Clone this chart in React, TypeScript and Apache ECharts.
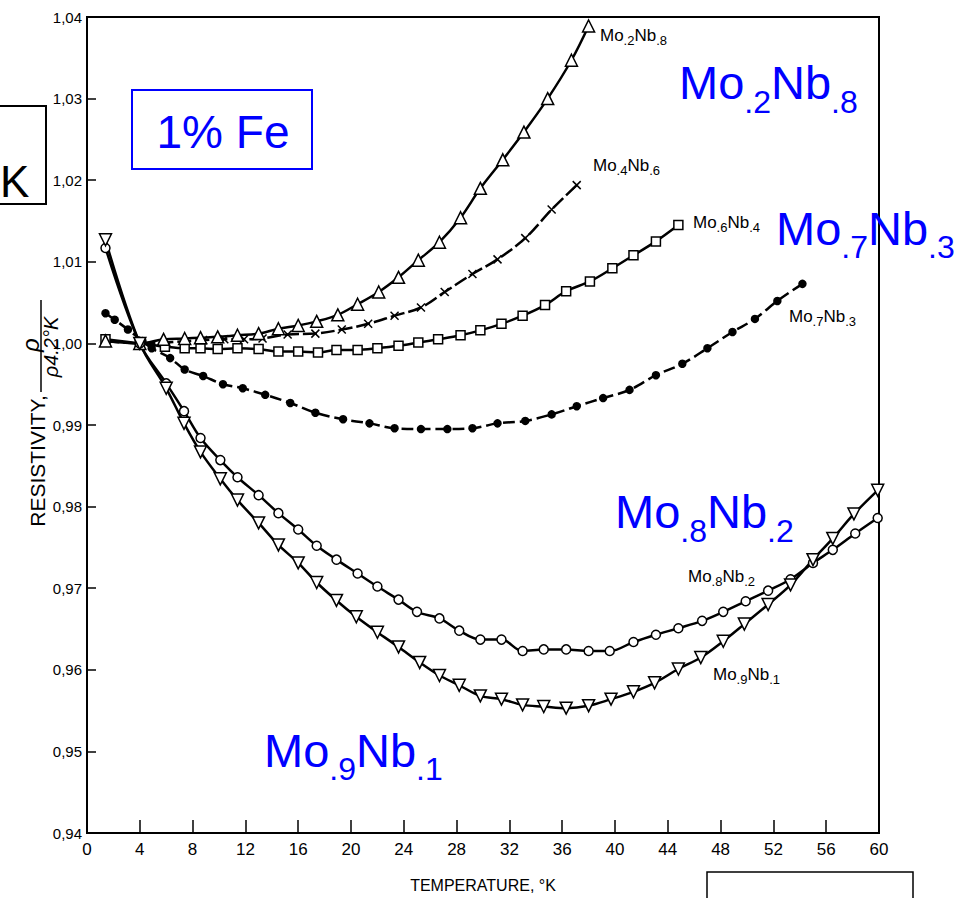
import React, { useEffect, useRef } from 'react';
import * as echarts from 'echarts';

// ---------- data (temperature °K, normalized resistivity) ----------
const mo2nb8: [number, number][] = [
  [1.4, 1.0003], [4, 1.0], [5.8, 1.0005], [7.4, 1.0006], [8.6, 1.0007], [9.9, 1.0008], [11.4, 1.001],
  [13.0, 1.0012], [14.5, 1.0018], [16.0, 1.0022], [17.4, 1.0027], [19.0, 1.0035], [20.5, 1.0048],
  [22.1, 1.0063], [23.6, 1.0081], [25.1, 1.0102], [26.7, 1.0124], [28.3, 1.0154], [29.8, 1.019],
  [31.5, 1.0225], [33.1, 1.0259], [34.9, 1.03], [36.7, 1.0347], [38.0, 1.0389],
];
const mo4nb6: [number, number][] = [
  [1.4, 1.0003], [4, 1.0], [8.8, 1.0004], [10.4, 1.0005], [11.9, 1.0005], [13.3, 1.0006], [15.2, 1.0011],
  [17.3, 1.0012], [19.3, 1.0017], [21.3, 1.0024], [23.3, 1.0034], [25.3, 1.0044], [27.1, 1.0063],
  [29.2, 1.0085], [31.1, 1.0103], [33.2, 1.0129], [35.2, 1.0164], [37.1, 1.0194],
];
const mo6nb4: [number, number][] = [
  [1.4, 1.0005], [4, 1.0], [5.9, 0.9996], [7.4, 0.9994], [8.6, 0.9994], [9.9, 0.9993], [11.4, 0.9994],
  [13.0, 0.9993], [14.5, 0.999], [16.0, 0.999], [17.5, 0.9989], [18.9, 0.9992], [20.5, 0.9992],
  [22.0, 0.9994], [23.6, 0.9997], [25.1, 1.0001], [26.6, 1.0005], [28.3, 1.001], [29.8, 1.0016],
  [31.4, 1.0024], [33.0, 1.0034], [34.7, 1.0047], [36.3, 1.0064], [38.1, 1.0076], [39.8, 1.0092],
  [41.4, 1.0108], [43.1, 1.0125], [44.8, 1.0145],
];
const mo7nb3: [number, number][] = [
  [1.4, 1.0037], [2.1, 1.0029], [3.1, 1.0017], [4.2, 1.0003], [4.9, 0.9994], [6.3, 0.9982], [7.4, 0.9968],
  [8.8, 0.996], [10.3, 0.995], [11.8, 0.9945], [13.5, 0.9937], [15.4, 0.9927], [17.3, 0.9915],
  [19.4, 0.9907], [21.4, 0.9902], [23.3, 0.9896], [25.3, 0.9895], [27.3, 0.9895], [29.2, 0.9896],
  [31.1, 0.9902], [33.2, 0.9905], [35.2, 0.9913], [37.1, 0.9923], [39.1, 0.9933], [41.1, 0.9943],
  [43.1, 0.9961], [45.1, 0.9975], [47.0, 0.9994], [48.9, 1.0014], [50.6, 1.003], [52.3, 1.0052],
  [54.2, 1.0073],
];
const mo8nb2: [number, number][] = [
  [1.4, 1.0117], [4, 1.0], [6.0, 0.9951], [7.35, 0.9917], [8.6, 0.9884], [10.1, 0.9857], [11.4, 0.9836],
  [13.0, 0.9814], [14.5, 0.9792], [16.0, 0.9772], [17.4, 0.9752], [18.9, 0.9735], [20.5, 0.9718],
  [22.0, 0.9702], [23.6, 0.9686], [25.0, 0.9671], [26.7, 0.9663], [28.2, 0.9648], [29.8, 0.9637],
  [31.4, 0.9637], [33.0, 0.9623], [34.6, 0.9625], [36.3, 0.9625], [38.0, 0.9623], [39.6, 0.9623],
  [41.4, 0.9634], [43.1, 0.9643], [44.8, 0.9651], [46.6, 0.966], [48.2, 0.9671], [49.9, 0.9684],
  [51.6, 0.9697], [53.3, 0.9711], [55.0, 0.9731], [56.5, 0.9747], [58.2, 0.9767], [59.9, 0.9786],
];
const mo9nb1: [number, number][] = [
  [1.4, 1.0127], [4, 1.0], [6.0, 0.9945], [7.35, 0.9902], [8.6, 0.9867], [10.1, 0.9834], [11.4, 0.9808],
  [13.0, 0.978], [14.5, 0.9753], [16.0, 0.9731], [17.4, 0.9707], [18.9, 0.9685], [20.4, 0.9665],
  [22.0, 0.9646], [23.6, 0.9628], [25.2, 0.9609], [26.7, 0.9593], [28.2, 0.9581], [29.8, 0.9568],
  [31.4, 0.9564], [33.0, 0.9557], [34.6, 0.9555], [36.3, 0.9553], [38.0, 0.9556], [39.7, 0.9564],
  [41.4, 0.9573], [43.0, 0.9584], [44.8, 0.9601], [46.5, 0.9615], [48.2, 0.9635], [49.8, 0.9656],
  [51.6, 0.968], [53.3, 0.9704], [55.0, 0.9735], [56.5, 0.9761], [58.1, 0.9791], [59.9, 0.982],
];

// label texts
const xAxisTitle = 'TEMPERATURE, °K';
const yAxisTitle = 'RESISTIVITY,';
const boxTitle = '1% Fe';
const alloyParts: Record<string, string[]> = {
  mo2nb8: ['Mo', '.2', 'Nb', '.8'],
  mo4nb6: ['Mo', '.4', 'Nb', '.6'],
  mo6nb4: ['Mo', '.6', 'Nb', '.4'],
  mo7nb3: ['Mo', '.7', 'Nb', '.3'],
  mo8nb2: ['Mo', '.8', 'Nb', '.2'],
  mo9nb1: ['Mo', '.9', 'Nb', '.1'],
};

const SANS = "'Liberation Sans', Arial, sans-serif";
const BLUE = '#0000ff';

const CW: Record<string, number> = { M: 0.833, o: 0.556, N: 0.722, b: 0.556, '.': 0.278, ',': 0.278 };
const tw = (s: string, size: number) => [...s].reduce((a, c) => a + (CW[c] ?? 0.556) * size, 0);

const txtStyle = (text: string, size: number, fill: string, align = 'left', extra: any = {}) => ({
  text, fill, fontSize: size, fontFamily: SANS, align, verticalAlign: 'middle', textAlign: align, textVerticalAlign: 'middle', ...extra,
});

function formula(parts: string[], x: number, baseline: number, big: number, sub: number, drop: number, color: string) {
  const out: any[] = [];
  let cx = x;
  parts.forEach((p, i) => {
    const isSub = i % 2 === 1;
    const size = isSub ? sub : big;
    const bl = isSub ? baseline + drop : baseline;
    out.push({ type: 'text', x: cx, y: bl - 0.35 * size, silent: true, z: 100, style: txtStyle(p, size, color) });
    cx += tw(p, size);
  });
  return out;
}

function lineSeries(name: string, data: [number, number][], symbol: string, size: number, dash: any, fill: string, extra: any = {}) {
  return {
    type: 'line', name, data, symbol, symbolSize: size, smooth: 0.35, showAllSymbol: true,
    lineStyle: { color: '#000', width: 2.5, type: dash },
    itemStyle: { color: fill, borderColor: '#000', borderWidth: 1.5 },
    emphasis: { disabled: true },
    ...extra,
  };
}

export default function App() {
  const ref = useRef<HTMLDivElement>(null);
  useEffect(() => {
    const chart = echarts.init(ref.current!, null, { renderer: 'svg' });
    const graphics: any[] = [
      // cut-off box at left with K
      { type: 'rect', shape: { x: -2, y: 106, width: 48, height: 98 }, style: { fill: 'none', stroke: '#000', lineWidth: 2 } },
      { type: 'text', x: 0, y: 181, style: txtStyle('K', 44, '#000') },
      // 1% Fe box
      { type: 'rect', shape: { x: 132, y: 90, width: 180, height: 79 }, style: { fill: 'none', stroke: BLUE, lineWidth: 2 } },
      { type: 'text', x: 223, y: 132, style: txtStyle(boxTitle, 46, BLUE, 'center') },
      // bottom-right box
      { type: 'rect', shape: { x: 707, y: 872, width: 206, height: 40 }, style: { fill: 'none', stroke: '#000', lineWidth: 1.5 } },
      // y axis title (rotated)
      { type: 'text', x: 37, y: 461, rotation: Math.PI / 2, style: txtStyle(yAxisTitle, 21, '#000', 'center') },
      { type: 'text', x: 30, y: 345, rotation: Math.PI / 2, style: txtStyle('ρ', 24, '#000', 'center', { fontStyle: 'italic' }) },
      { type: 'line', shape: { x1: 41, y1: 300, x2: 41, y2: 392 }, style: { stroke: '#000', lineWidth: 1.5 } },
      { type: 'text', x: 51, y: 347, rotation: Math.PI / 2, style: txtStyle('ρ4.2°K', 20, '#000', 'center', { fontStyle: 'italic' }) },
      // blue annotations
      ...formula(alloyParts.mo2nb8, 679, 99, 47, 32, 14, BLUE),
      ...formula(alloyParts.mo7nb3, 776, 245, 47, 32, 13, BLUE),
      ...formula(alloyParts.mo8nb2, 615, 528, 47, 32, 14, BLUE),
      ...formula(alloyParts.mo9nb1, 264, 767, 47, 32, 13, BLUE),
      // small black curve labels
      ...formula(alloyParts.mo2nb8, 600, 41, 17, 13, 4, '#000'),
      ...formula(alloyParts.mo4nb6, 593, 171, 17, 13, 4, '#000'),
      ...formula(alloyParts.mo6nb4, 693, 228, 17, 13, 4, '#000'),
      ...formula(alloyParts.mo7nb3, 789, 322, 17, 13, 4, '#000'),
      ...formula(alloyParts.mo8nb2, 688, 582, 17, 13, 4, '#000'),
      ...formula(alloyParts.mo9nb1, 713, 680, 17, 13, 4, '#000'),
    ];

    chart.setOption({
      animation: false,
      backgroundColor: '#fff',
      grid: { left: 87, top: 17, width: 792, height: 823, show: true, borderColor: '#000', borderWidth: 2, backgroundColor: 'transparent' },
      xAxis: {
        type: 'value', min: 0, max: 60, interval: 4,
        name: xAxisTitle, nameLocation: 'middle', nameGap: 44,
        nameTextStyle: { fontSize: 16, fontFamily: SANS, color: '#000' },
        axisLine: { show: true, lineStyle: { color: '#000', width: 2 } },
        axisTick: { show: true, inside: true, length: 13, lineStyle: { color: '#000', width: 1.5 } },
        axisLabel: { fontSize: 17, fontFamily: SANS, color: '#000', margin: 8 },
        splitLine: { show: false },
      },
      yAxis: {
        type: 'value', min: 0.94, max: 1.04, interval: 0.01,
        axisLine: { show: true, lineStyle: { color: '#000', width: 2 } },
        axisTick: { show: true, inside: true, length: 9, lineStyle: { color: '#000', width: 1.5 } },
        axisLabel: { fontSize: 15, fontFamily: SANS, color: '#000', margin: 5, formatter: (v: number) => v.toFixed(2).replace('.', ',') },
        splitLine: { show: false },
      },
      series: [
        lineSeries('Mo.7Nb.3', mo7nb3, 'circle', 7, [12, 5], '#000'),
        lineSeries('Mo.4Nb.6', mo4nb6, 'path://M0,0L10,10M10,0L0,10', 8, [14, 4], 'none'),
        lineSeries('Mo.6Nb.4', mo6nb4, 'rect', 9, 'solid', '#fff'),
        lineSeries('Mo.2Nb.8', mo2nb8, 'triangle', 12, 'solid', '#fff'),
        lineSeries('Mo.8Nb.2', mo8nb2, 'circle', 9, 'solid', '#fff'),
        lineSeries('Mo.9Nb.1', mo9nb1, 'triangle', 12, 'solid', '#fff', { symbolRotate: 180 }),
      ],
      graphic: { elements: graphics },
    });
    return () => chart.dispose();
  }, []);
  return <div ref={ref} style={{ position: 'fixed', left: 0, top: 0, width: 959, height: 898, background: '#fff' }} />;
}
